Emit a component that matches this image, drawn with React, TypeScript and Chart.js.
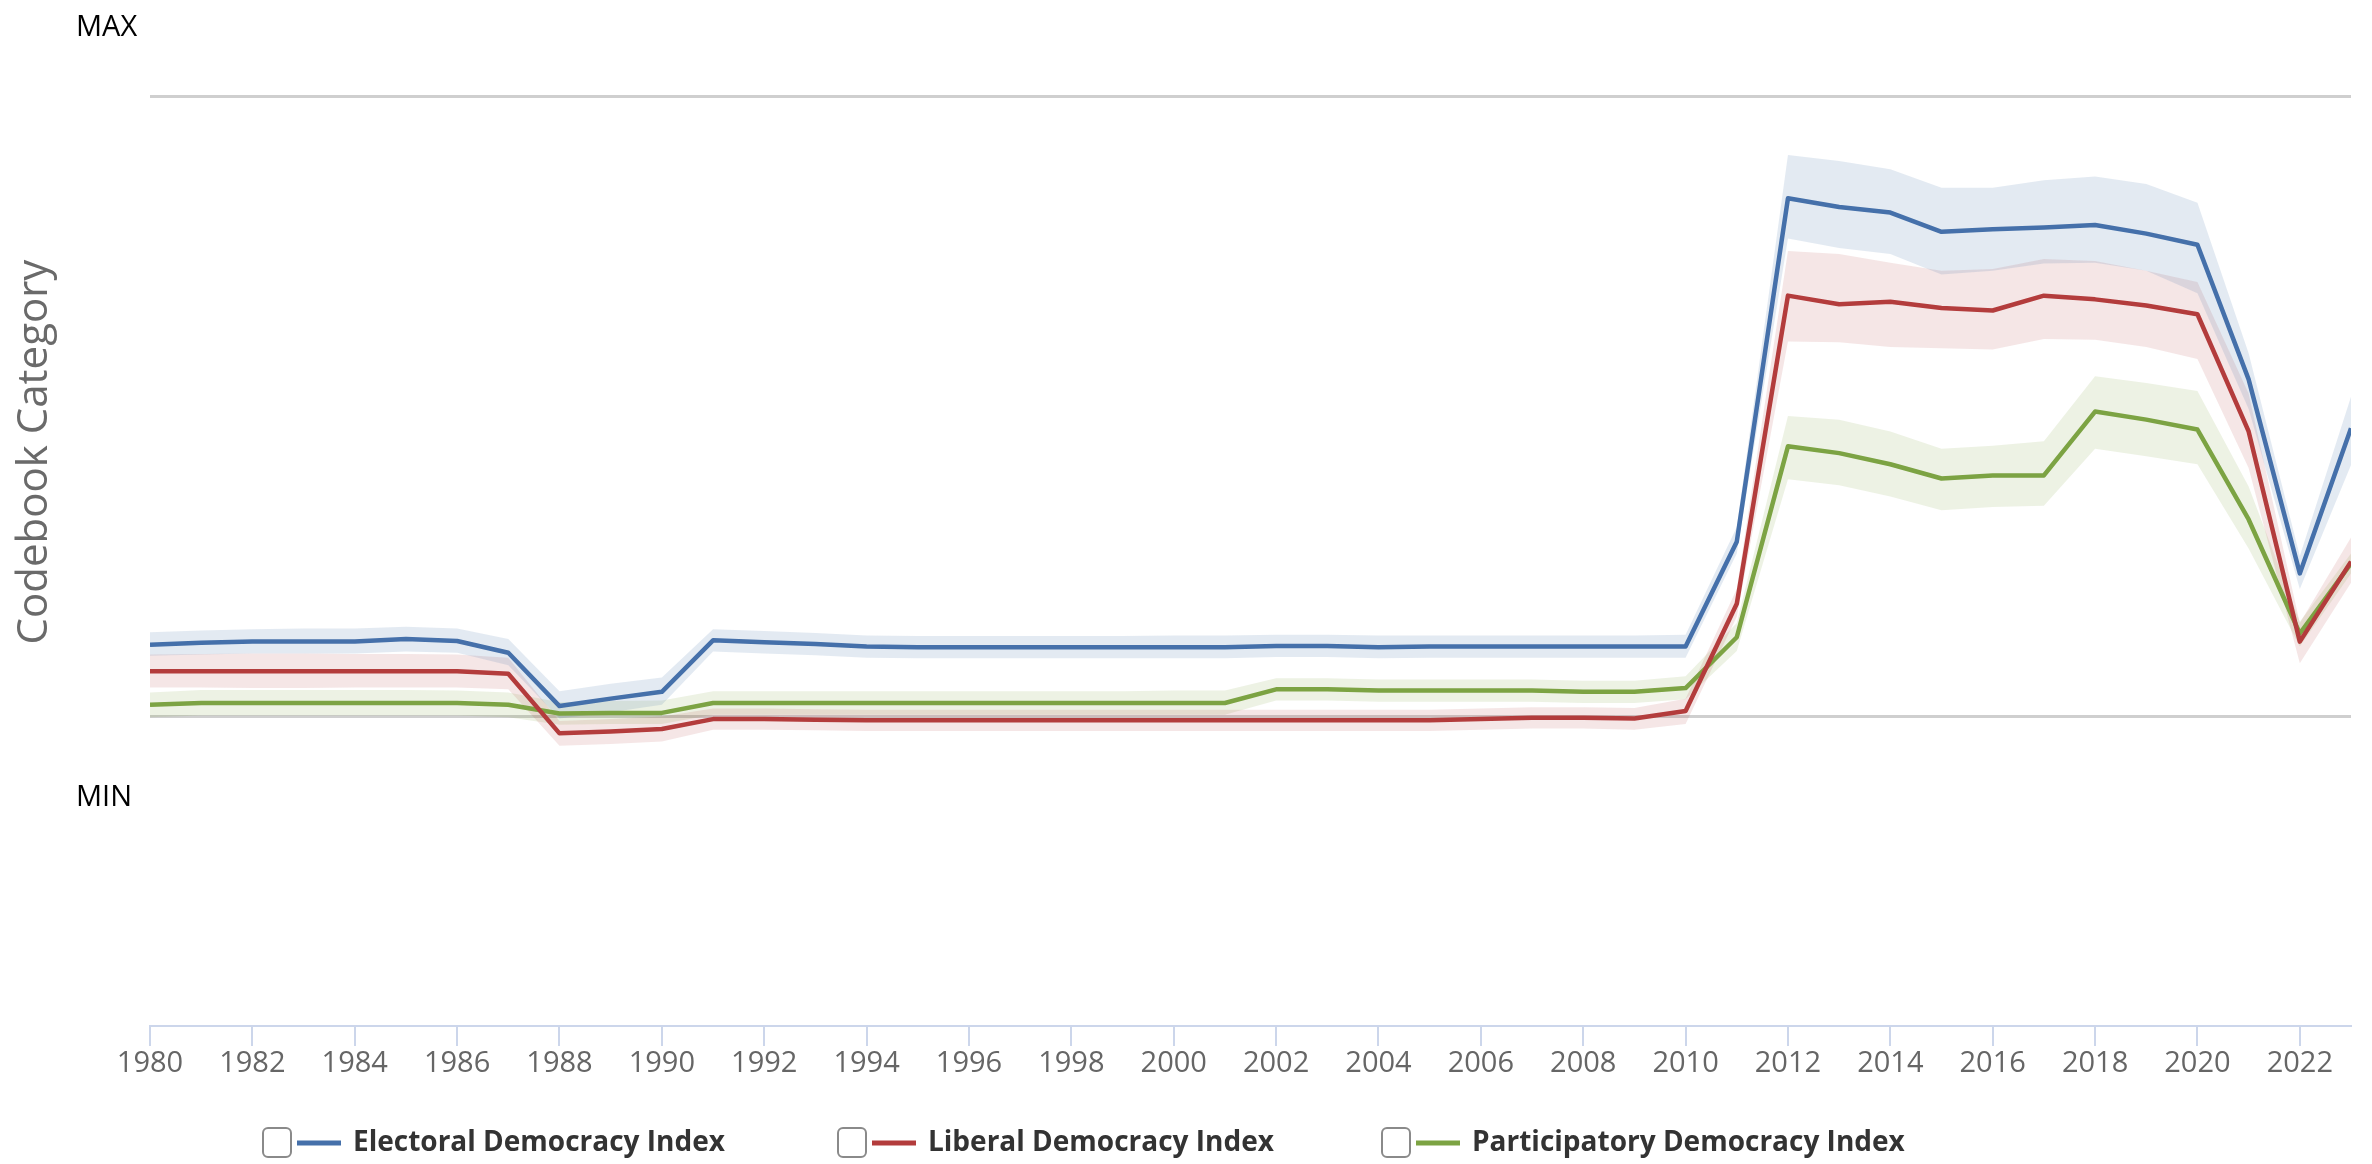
import React, { useEffect, useRef } from "react";
import { Chart, registerables } from "chart.js";

Chart.register(...registerables);

// ---------- data ----------
const years = [
  1980, 1981, 1982, 1983, 1984, 1985, 1986, 1987, 1988, 1989, 1990,
  1991, 1992, 1993, 1994, 1995, 1996, 1997, 1998, 1999, 2000, 2001,
  2002, 2003, 2004, 2005, 2006, 2007, 2008, 2009, 2010,
  2011, 2012, 2013, 2014, 2015, 2016, 2017, 2018, 2019, 2020, 2021, 2022, 2023,
];

const xTickYears = [
  1980, 1982, 1984, 1986, 1988, 1990, 1992, 1994, 1996, 1998, 2000,
  2002, 2004, 2006, 2008, 2010, 2012, 2014, 2016, 2018, 2020, 2022,
];

const seriesNames = [
  "Electoral Democracy Index",
  "Liberal Democracy Index",
  "Participatory Democracy Index",
];

const electoral = [
  0.115, 0.118, 0.120, 0.120, 0.120, 0.124, 0.121, 0.102, 0.016, 0.028, 0.039,
  0.122, 0.119, 0.116, 0.112, 0.111, 0.111, 0.111, 0.111, 0.111, 0.111, 0.111,
  0.113, 0.113, 0.111, 0.112, 0.112, 0.112, 0.112, 0.112, 0.112,
  0.281, 0.835, 0.821, 0.812, 0.781, 0.785, 0.788, 0.792, 0.778, 0.760, 0.543, 0.230, 0.464,
];
const electoralHigh = [
  0.135, 0.138, 0.140, 0.141, 0.141, 0.144, 0.141, 0.124, 0.040, 0.052, 0.062,
  0.140, 0.137, 0.134, 0.130, 0.129, 0.129, 0.129, 0.129, 0.129, 0.130, 0.130,
  0.131, 0.131, 0.130, 0.130, 0.130, 0.130, 0.130, 0.130, 0.131,
  0.305, 0.905, 0.895, 0.882, 0.852, 0.852, 0.864, 0.870, 0.858, 0.828, 0.585, 0.258, 0.515,
];
const electoralLow = [
  0.097, 0.099, 0.101, 0.101, 0.101, 0.104, 0.102, 0.082, -0.004, 0.006, 0.018,
  0.104, 0.101, 0.098, 0.094, 0.093, 0.093, 0.093, 0.093, 0.093, 0.093, 0.093,
  0.095, 0.095, 0.093, 0.094, 0.094, 0.094, 0.094, 0.094, 0.094,
  0.262, 0.770, 0.755, 0.745, 0.712, 0.718, 0.730, 0.731, 0.718, 0.682, 0.495, 0.205, 0.405,
];

const liberal = [
  0.072, 0.072, 0.072, 0.072, 0.072, 0.072, 0.072, 0.068, -0.028, -0.025, -0.021,
  -0.005, -0.005, -0.006, -0.007, -0.007, -0.007, -0.007, -0.007, -0.007, -0.007, -0.007,
  -0.007, -0.007, -0.007, -0.007, -0.005, -0.003, -0.003, -0.004, 0.008,
  0.181, 0.678, 0.664, 0.668, 0.658, 0.654, 0.678, 0.672, 0.662, 0.648, 0.459, 0.120, 0.249,
];
const liberalHigh = [
  0.099, 0.100, 0.101, 0.101, 0.100, 0.100, 0.099, 0.094, -0.008, -0.005, -0.001,
  0.012, 0.012, 0.011, 0.010, 0.010, 0.010, 0.010, 0.010, 0.010, 0.010, 0.010,
  0.010, 0.010, 0.010, 0.010, 0.012, 0.014, 0.014, 0.013, 0.028,
  0.205, 0.750, 0.745, 0.731, 0.718, 0.721, 0.737, 0.734, 0.718, 0.700, 0.520, 0.150, 0.288,
];
const liberalLow = [
  0.046, 0.046, 0.045, 0.045, 0.046, 0.046, 0.046, 0.043, -0.048, -0.045, -0.041,
  -0.022, -0.022, -0.023, -0.024, -0.024, -0.024, -0.024, -0.024, -0.024, -0.024, -0.024,
  -0.024, -0.024, -0.024, -0.024, -0.022, -0.020, -0.020, -0.022, -0.013,
  0.160, 0.604, 0.603, 0.595, 0.593, 0.591, 0.608, 0.607, 0.595, 0.576, 0.400, 0.085, 0.215,
];

const participatory = [
  0.018, 0.021, 0.021, 0.021, 0.021, 0.021, 0.021, 0.018, 0.004, 0.005, 0.005,
  0.021, 0.021, 0.021, 0.021, 0.021, 0.021, 0.021, 0.021, 0.021, 0.021, 0.021,
  0.043, 0.043, 0.041, 0.041, 0.041, 0.041, 0.039, 0.039, 0.045,
  0.127, 0.435, 0.424, 0.406, 0.383, 0.388, 0.388, 0.491, 0.478, 0.462, 0.317, 0.133, 0.246,
];
const participatoryHigh = [
  0.038, 0.042, 0.042, 0.042, 0.042, 0.042, 0.041, 0.038, 0.022, 0.024, 0.025,
  0.040, 0.040, 0.040, 0.040, 0.040, 0.040, 0.040, 0.040, 0.040, 0.041, 0.041,
  0.061, 0.061, 0.059, 0.059, 0.059, 0.059, 0.057, 0.057, 0.064,
  0.150, 0.484, 0.478, 0.459, 0.431, 0.436, 0.443, 0.548, 0.537, 0.524, 0.370, 0.152, 0.262,
];
const participatoryLow = [
  -0.002, 0.001, 0.001, 0.001, 0.001, 0.001, 0.001, -0.002, -0.014, -0.013, -0.013,
  0.002, 0.002, 0.002, 0.002, 0.002, 0.002, 0.002, 0.002, 0.002, 0.002, 0.002,
  0.025, 0.025, 0.023, 0.023, 0.023, 0.023, 0.021, 0.021, 0.027,
  0.105, 0.382, 0.372, 0.354, 0.332, 0.337, 0.339, 0.431, 0.419, 0.406, 0.270, 0.112, 0.230,
];

const gridValues = [0, 1];
const gridLabels = ["MIN", "MAX"];

// ---------- styles ----------
const W = 2372;
const H = 1164;
const lineColors = ["#4570aa", "#b33c3c", "#7ca343"];
const bandColors = [
  "rgba(70,112,170,0.15)",
  "rgba(179,60,60,0.13)",
  "rgba(124,163,67,0.14)",
];
const FONT = "'Open Sans', 'Liberation Sans', Arial, sans-serif";

const pts = (arr: number[]) => arr.map((v, i) => ({ x: years[i], y: v }));

const decorPlugin = {
  id: "decor",
  beforeDatasetsDraw(chart: any) {
    const { ctx, chartArea, scales } = chart;
    const y = scales.y;
    ctx.save();
    ctx.strokeStyle = "#cfcfcf";
    ctx.lineWidth = 3;
    gridValues.forEach((v) => {
      const py = Math.round(y.getPixelForValue(v)) + 0.5;
      ctx.beginPath();
      ctx.moveTo(chartArea.left, py);
      ctx.lineTo(chartArea.right, py);
      ctx.stroke();
    });
    ctx.restore();
  },
  afterDraw(chart: any) {
    const { ctx, scales } = chart;
    const y = scales.y;
    ctx.save();
    // MAX / MIN labels
    ctx.fillStyle = "#000";
    ctx.font = `500 29px ${FONT}`;
    ctx.textAlign = "left";
    ctx.textBaseline = "middle";
    gridValues.forEach((v, i) => {
      const py = y.getPixelForValue(v);
      const off = v === 1 ? -68 : 82;
      ctx.fillText(gridLabels[i], 76, py + off);
    });

    // Y axis title
    ctx.save();
    ctx.translate(35, 452);
    ctx.rotate(-Math.PI / 2);
    ctx.fillStyle = "#6a6a6a";
    ctx.font = `42px ${FONT}`;
    ctx.textAlign = "center";
    ctx.textBaseline = "middle";
    ctx.fillText("Codebook Category", 0, 0);
    ctx.restore();

    // Legend
    const boxX = [262, 837, 1381];
    const cy = 1143;
    seriesNames.forEach((name, i) => {
      const bx = boxX[i];
      ctx.strokeStyle = "#8a8a8a";
      ctx.lineWidth = 2;
      ctx.beginPath();
      (ctx as any).roundRect(bx + 1, cy - 15, 28, 29, 5);
      ctx.stroke();
      ctx.strokeStyle = lineColors[i];
      ctx.lineWidth = 5;
      ctx.beginPath();
      ctx.moveTo(bx + 35, cy);
      ctx.lineTo(bx + 79, cy);
      ctx.stroke();
      ctx.fillStyle = "#333";
      ctx.font = `bold 28px ${FONT}`;
      ctx.textAlign = "left";
      ctx.textBaseline = "middle";
      ctx.fillText(name, bx + 91, cy);
    });
    ctx.restore();
  },
};

export default function App() {
  const canvasRef = useRef<HTMLCanvasElement | null>(null);

  useEffect(() => {
    if (!canvasRef.current) return;
    const mids = [electoral, liberal, participatory];
    const highs = [electoralHigh, liberalHigh, participatoryHigh];
    const lows = [electoralLow, liberalLow, participatoryLow];

    const datasets: any[] = [];
    for (let i = 0; i < 3; i++) {
      datasets.push({
        label: seriesNames[i] + " high",
        data: pts(highs[i]),
        borderWidth: 0,
        pointRadius: 0,
        backgroundColor: bandColors[i],
        fill: "+1",
        order: 10,
      });
      datasets.push({
        label: seriesNames[i] + " low",
        data: pts(lows[i]),
        borderWidth: 0,
        pointRadius: 0,
        fill: false,
        order: 10,
      });
    }
    for (let i = 0; i < 3; i++) {
      datasets.push({
        label: seriesNames[i],
        data: pts(mids[i]),
        borderColor: lineColors[i],
        borderWidth: 4.5,
        pointRadius: 0,
        fill: false,
        borderJoinStyle: "round",
        order: 1,
      });
    }

    const chart = new Chart(canvasRef.current, {
      type: "line",
      data: { datasets },
      options: {
        animation: false,
        responsive: false,
        devicePixelRatio: 1,
        layout: { padding: { left: 150, right: 21, top: 34, bottom: 0 } },
        plugins: {
          legend: { display: false },
          tooltip: { enabled: false },
        },
        elements: { line: { tension: 0 } },
        scales: {
          x: {
            type: "linear",
            min: 1980,
            max: 2023,
            afterBuildTicks: (s: any) => {
              s.ticks = xTickYears.map((v) => ({ value: v }));
            },
            afterFit: (s: any) => {
              s.height = 138;
            },
            ticks: {
              color: "#666",
              font: { family: FONT, size: 29 },
              padding: 0,
              maxRotation: 0,
              autoSkip: false,
              callback: (v: any) => String(v),
            },
            grid: {
              drawOnChartArea: false,
              drawTicks: true,
              tickLength: 20,
              color: "#ccd6eb",
              lineWidth: 2,
            },
            border: { display: true, color: "#ccd6eb", width: 2 },
          },
          y: {
            type: "linear",
            min: -0.5,
            max: 1.1,
            display: false,
          },
        },
      },
      plugins: [decorPlugin],
    });
    return () => chart.destroy();
  }, []);

  return (
    <div
      style={{
        position: "absolute",
        left: 0,
        top: 0,
        width: W,
        height: H,
        background: "#fff",
      }}
    >
      <canvas ref={canvasRef} width={W} height={H} style={{ display: "block" }} />
    </div>
  );
}
